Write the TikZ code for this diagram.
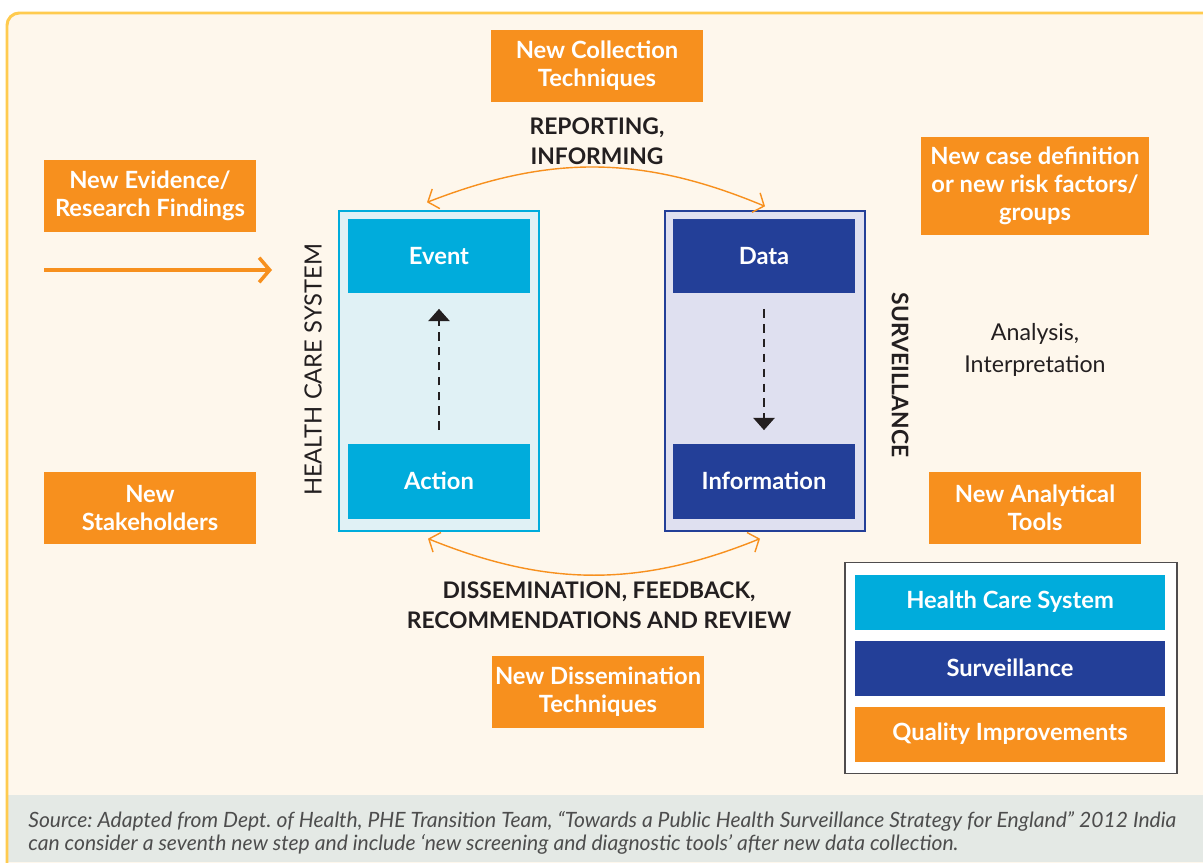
\documentclass[tikz,border=0pt]{standalone}
\usepackage{fontspec}
\setmainfont{Lato}
\usepackage{xcolor}
\usetikzlibrary{arrows.meta,shapes}
\definecolor{qorange}{HTML}{F7901E}
\definecolor{paper}{HTML}{FEF7EC}
\definecolor{frameyellow}{HTML}{FFCB4F}
\definecolor{hcscyan}{HTML}{00ACDC}
\definecolor{hcslight}{HTML}{E0F1F5}
\definecolor{survnavy}{HTML}{233F98}
\definecolor{survlight}{HTML}{DFE0F0}
\definecolor{footgray}{HTML}{E4E9E5}
\definecolor{ink}{HTML}{231F20}
\definecolor{notegray}{HTML}{4D4D4D}
\tikzstyle{qbox} = [rectangle, fill=qorange, text=white, font=\fontsize{13.5}{16}\selectfont\bfseries, minimum width=4.26cm, minimum height=1.44cm, align=center, inner sep=0pt]
\tikzstyle{hcsbox} = [rectangle, fill=hcscyan, text=white, font=\fontsize{13.5}{16}\selectfont\bfseries, minimum width=3.66cm, minimum height=1.5cm, inner sep=0pt]
\tikzstyle{survbox} = [hcsbox, fill=survnavy]
\tikzstyle{hcsframe} = [rectangle, draw=hcscyan, fill=hcslight, line width=0.8pt, minimum width=4cm, minimum height=6.4cm]
\tikzstyle{survframe} = [hcsframe, draw=survnavy, fill=survlight]
\tikzstyle{legbox} = [hcsbox, minimum width=6.22cm, minimum height=1.1cm]
\tikzstyle{flowlbl} = [align=center, text=ink, font=\fontsize{13}{17}\selectfont\bfseries]
\tikzstyle{dasharrow} = [ink, line width=1.5pt, dash pattern=on 5pt off 3.5pt, -{Triangle[length=7pt,width=12pt]}]
\tikzstyle{orarrow} = [qorange, line width=0.8pt]

\begin{document}
\frenchspacing
\begin{tikzpicture}[x=0.02cm,y=-0.02cm]
    \tikzset{>={Straight Barb[length=5pt,width=12pt]}}
    \useasboundingbox (0,0) rectangle (1203,862);
    \fill[white] (0,0) rectangle (1203,862);
    \fill[paper, rounded corners=7pt] (7,13) rectangle (1240,900);
    \fill[footgray] (8,795) rectangle (1203,862);
    \draw[frameyellow, line width=1.7pt, rounded corners=7pt] (7,13) rectangle (1240,900);

    \begin{scope}[font=\fontsize{13.5}{16}\selectfont]
    % health care system and surveillance
    \node[hcsframe] (hcs) at (439,371) {};
    \node[survframe] (surv) at (765,371) {};
    \node[hcsbox] (ev) at (439,256) {Event};
    \node[hcsbox] (act) at (439,481) {Action};
    \node[survbox] (dat) at (764,256) {Data};
    \node[survbox] (inf) at (764,481) {Information};
    \draw[dasharrow, shorten <=0.26cm, shorten >=0.3cm] (act) -- (ev);
    \draw[dasharrow, shorten <=0.3cm, shorten >=0.26cm] (dat) -- (inf);

    \node[rotate=90, text=ink] (hcslbl) at (313,370) {HEALTH CARE SYSTEM};
    \node[rotate=-90, text=ink, font=\fontsize{13}{16}\selectfont\bfseries] (survlbl) at (900,375) {SURVEILLANCE};

    % quality improvements
    \node[qbox] (coll) at (597,66) {New Collection\\Techniques};
    \node[qbox] (evid) at (150,196) {New Evidence/\\Research Findings};
    \node[qbox, minimum width=4.56cm, minimum height=1.96cm] (casedef) at (1035,186) {New case definition\\or new risk factors/\\groups};
    \node[qbox] (stake) at (150,508) {New\\Stakeholders};
    \node[qbox] (tools) at (1035,508) {New Analytical\\Tools};
    \node[qbox] (diss) at (598,692) {New Dissemination\\Techniques};

    % flow labels
    \node[flowlbl] (rep) at (597,141) {REPORTING,\\INFORMING};
    \node[flowlbl] (dis) at (599,605) {DISSEMINATION, FEEDBACK,\\RECOMMENDATIONS AND REVIEW};
    \node[align=center, text=ink, font=\fontsize{13.2}{18.5}\selectfont] (anl) at (1035,350) {Analysis,\\Interpretation};

    % cycle
    \draw[orarrow, <->] ([shift={(-12,-8)}]hcs.north) to[bend left=22] ([shift={(0,-4)}]surv.north);
    \draw[orarrow, <->] ([shift={(-11,7)}]hcs.south) to[bend right=22] ([shift={(-5,7)}]surv.south);
    \coordinate (inflow) at (44,270);
    \coordinate (inhead) at (272,270);
    \draw[qorange, line width=2pt, -{Straight Barb[length=6pt,width=14pt]}] (inflow) -- (inhead);

    % legend
    \node[rectangle, draw=ink!80, fill=white, line width=0.8pt, minimum width=6.64cm, minimum height=4.22cm] (leg) at (1011,668) {};
    \node[legbox, fill=hcscyan] (lhcs) at (1010,602) {Health Care System};
    \node[legbox, fill=survnavy] (lsurv) at (1010,668) {Surveillance};
    \node[legbox, fill=qorange] (lqual) at (1010,734) {Quality Improvements};
    \end{scope}

    % source note
    \node[anchor=north west, align=left, text=notegray, inner sep=0pt, font=\fontsize{12}{13}\selectfont\itshape] (src) at (28,811) {Source: Adapted from Dept. of Health, PHE Transition Team, ``Towards a Public Health Surveillance Strategy for England'' 2012 India\\can consider a seventh new step and include `new screening and diagnostic tools' after new data collection.};
\end{tikzpicture}
\end{document}
